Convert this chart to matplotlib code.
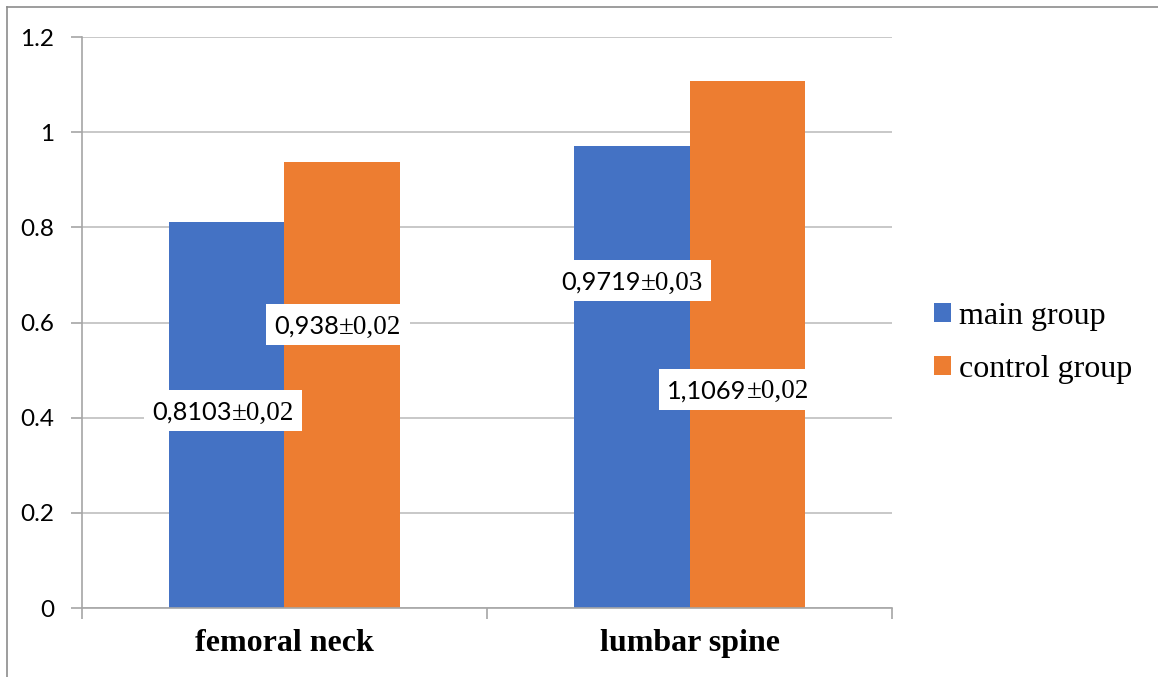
import matplotlib.pyplot as plt
from matplotlib.lines import Line2D
from matplotlib.patches import Rectangle
import numpy as np

categories = ['femoral neck', 'lumbar spine']
series_names = ['main group', 'control group']
main_vals = [0.8103, 0.9719]
control_vals = [0.938, 1.1069]
main_labels = ['0,8103±0,02', '0,9719±0,03']
control_labels = ['0,938±0,02', '1,1069±0,02']
# where the (manually placed) data labels sit, in data units
main_label_y = [0.415, 0.688]
control_label_y = [0.595, 0.460]
main_label_dx = [-0.01, 0.0]
control_label_dx = [-0.01, -0.022]

blue = '#4472C4'
orange = '#ED7D31'
grey = '#a6a6a6'

fig = plt.figure(figsize=(11.58, 6.77), dpi=100)
ax = fig.add_axes([0.0708, 0.1019, 0.6995, 0.8434])

x = np.arange(len(categories))
w = 0.284
ax.bar(x - w/2, main_vals, w, color=blue, label=series_names[0], zorder=2)
ax.bar(x + w/2, control_vals, w, color=orange, label=series_names[1], zorder=2)

ax.set_xlim(-0.5, 1.5)
ax.set_ylim(0, 1.2)
ax.set_yticks(np.arange(0, 1.21, 0.2))
ax.set_yticklabels(['0', '0.2', '0.4', '0.6', '0.8', '1', '1.2'],
                   family='Lato', fontsize=17.5)
ax.set_xticks(x)
ax.set_xticklabels(categories, family='Liberation Serif', fontsize=23,
                   fontweight='bold')
ax.set_xticks([-0.5, 0.5, 1.5], minor=True)
ax.tick_params(axis='x', which='major', length=0, pad=15)
ax.tick_params(axis='x', which='minor', length=8, color=grey, width=1.2)
ax.tick_params(axis='y', length=8, color=grey, width=1.2, pad=12)

ax.grid(axis='y', color='#bfbfbf', linewidth=1.2, zorder=0)
ax.set_axisbelow(True)
for s in ['top', 'right']:
    ax.spines[s].set_visible(False)
for s in ['left', 'bottom']:
    ax.spines[s].set_color(grey)
    ax.spines[s].set_linewidth(1.2)

ax.legend(loc='center left', bbox_to_anchor=(1.016, 0.464), frameon=False,
          prop={'family': 'Liberation Serif', 'size': 23},
          handlelength=0.55, handleheight=0.55, handletextpad=0.25,
          labelspacing=0.75)

# data labels: number in sans, "±error" in serif, on a white box
pairs = []
for i in range(len(categories)):
    pairs.append((x[i] - w/2 + main_label_dx[i], main_label_y[i], main_labels[i]))
    pairs.append((x[i] + w/2 + control_label_dx[i], control_label_y[i], control_labels[i]))

items = []
for xc, yc, s in pairs:
    num, err = s.split('±')
    t1 = ax.text(xc, yc, num, family='Lato', fontsize=18.3,
                 ha='left', va='baseline', zorder=4)
    t2 = ax.text(xc, yc, '±' + err, family='Liberation Serif', fontsize=19.5,
                 ha='left', va='baseline', zorder=4)
    items.append((xc, yc, t1, t2))

fig.canvas.draw()
r = fig.canvas.get_renderer()
inv = ax.transData.inverted()
for xc, yc, t1, t2 in items:
    w1 = t1.get_window_extent(r).width
    w2 = t2.get_window_extent(r).width
    cx, cy = ax.transData.transform((xc, yc))
    base = cy - 9   # baseline sits a little below the box centre
    x0 = cx - (w1 + w2) / 2
    t1.set_position(inv.transform((x0, base)))
    t2.set_position(inv.transform((x0 + w1, base)))
    bw, bh = w1 + w2 + 16, 41
    (bx0, by0) = inv.transform((cx - bw/2, cy - bh/2))
    (bx1, by1) = inv.transform((cx + bw/2, cy + bh/2))
    ax.add_patch(Rectangle((bx0, by0), bx1 - bx0, by1 - by0, fc='white',
                           ec='none', zorder=3, clip_on=False))

# chart frame (left and top edges)
fig.add_artist(Line2D([7/1158, 7/1158], [0, 1 - 7/677], color='#8c8c8c', lw=1.2))
fig.add_artist(Line2D([7/1158, 1], [1 - 7/677, 1 - 7/677], color='#8c8c8c', lw=1.2))

plt.savefig('out.png', dpi=100)
plt.close()
